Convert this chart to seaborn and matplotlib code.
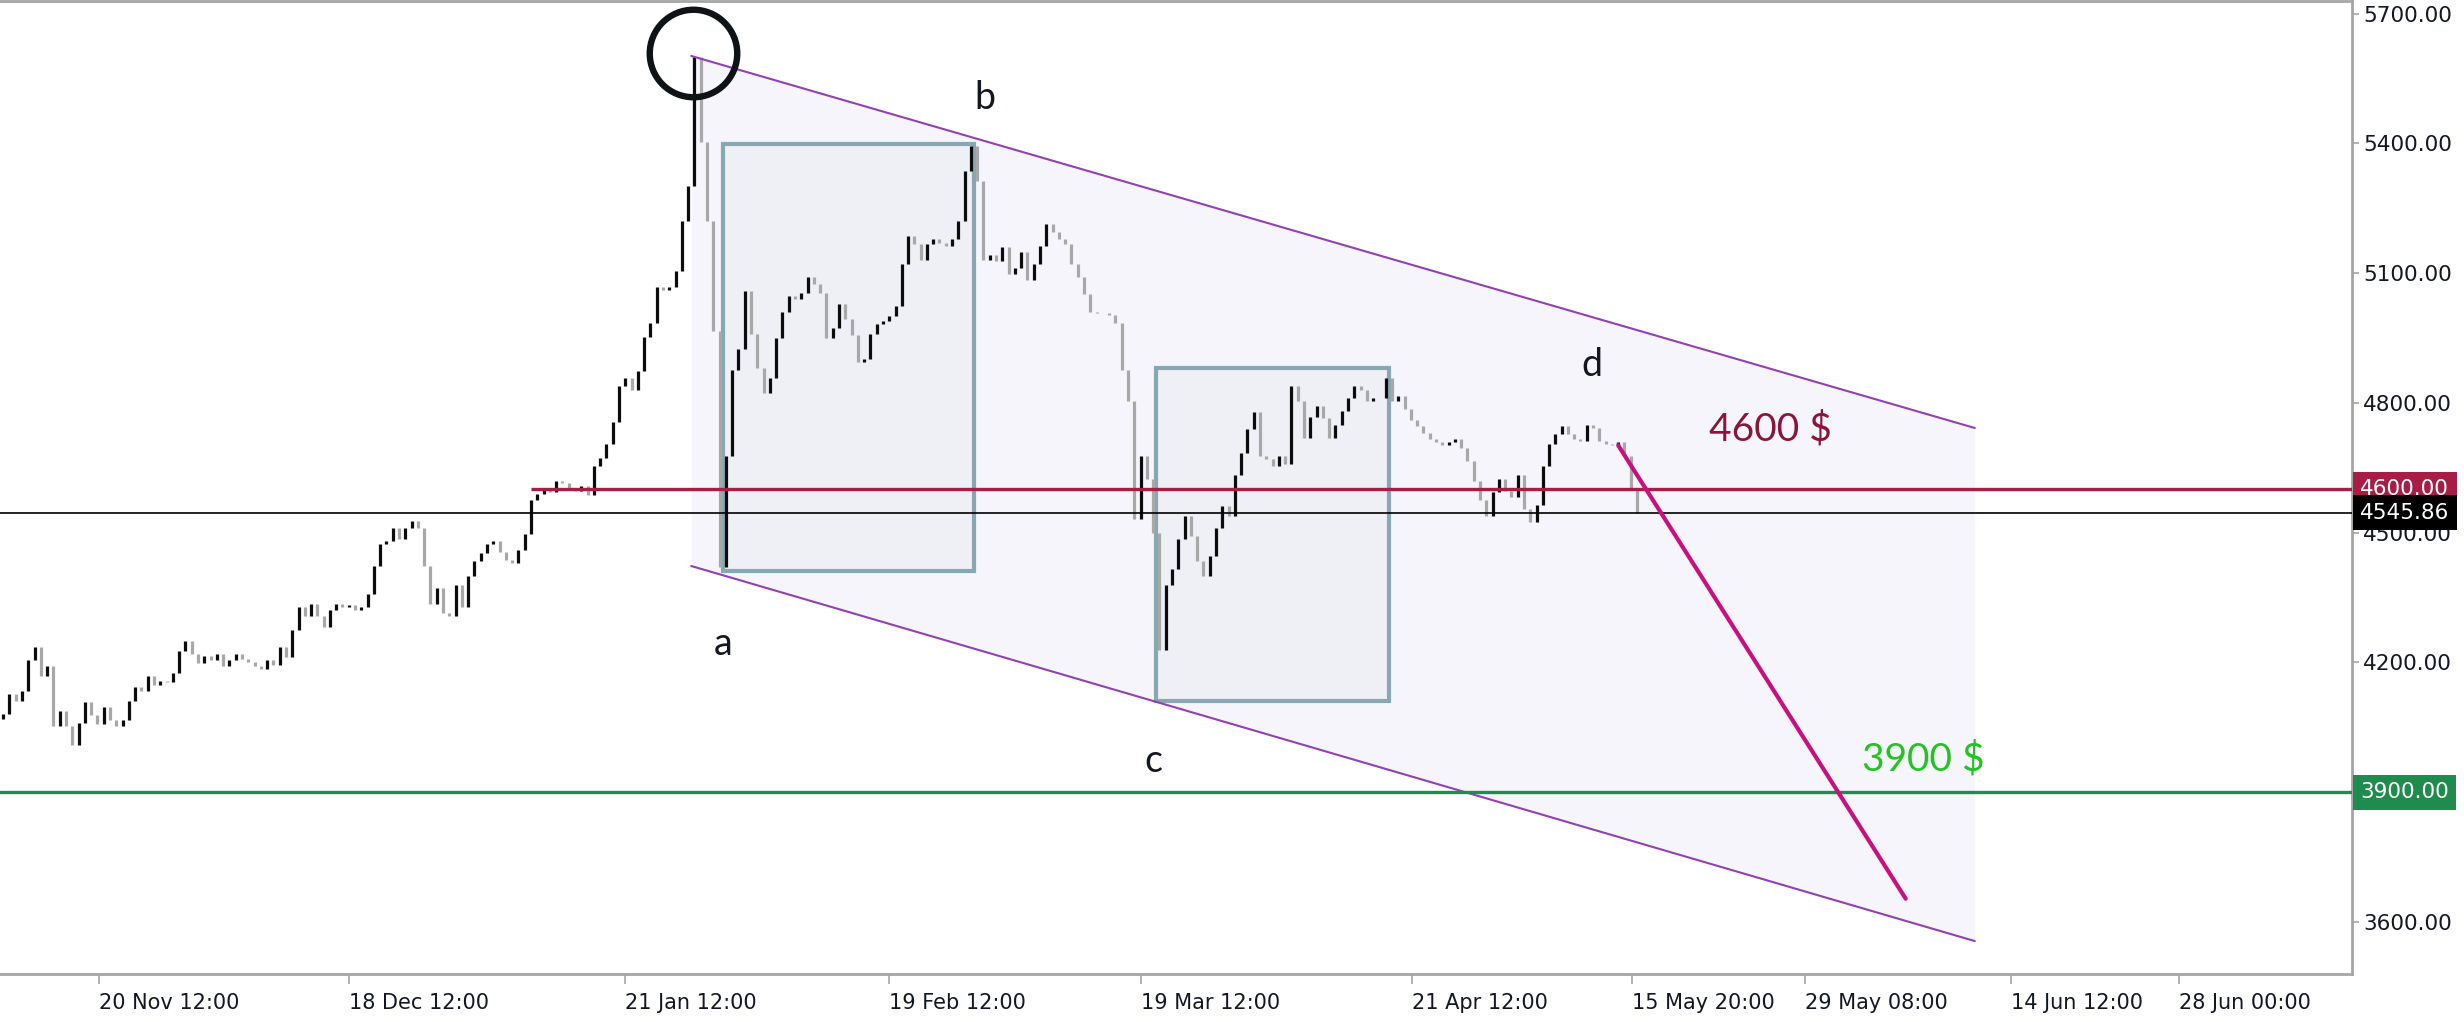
import pandas as pd
import matplotlib.pyplot as plt
import matplotlib.transforms as mtransforms
from matplotlib.patches import Rectangle
import seaborn as sns

# ==========================
# DATA
# ==========================

closes = [
    4082, 4126, 4111, 4133, 4205, 4235, 4169, 4191, 4053, 4089,
    4053, 4010, 4060, 4108, 4079, 4057, 4097, 4068, 4053, 4068,
    4111, 4144, 4133, 4169, 4147, 4158, 4155, 4176, 4227, 4249,
    4220, 4198, 4216, 4205, 4220, 4191, 4205, 4220, 4209, 4202,
    4191, 4184, 4205, 4195, 4235, 4213, 4274, 4329, 4307, 4336,
    4307, 4282, 4322, 4336, 4329, 4332, 4322, 4329, 4358, 4423,
    4474, 4481, 4510, 4485, 4510, 4528, 4510, 4423, 4336, 4372,
    4314, 4307, 4380, 4329, 4401, 4434, 4452, 4474, 4481, 4456,
    4438, 4430, 4459, 4496, 4575, 4590, 4604, 4594, 4619, 4615,
    4601, 4597, 4608, 4586, 4655, 4673, 4706, 4757, 4840, 4858,
    4829, 4873, 4953, 4985, 5069, 5062, 5069, 5105, 5221, 5301,
    5600, 5402, 5221, 4967, 4420, 4677, 4877, 4924, 5058, 4960,
    4880, 4822, 4858, 4949, 5011, 5047, 5040, 5054, 5091, 5076,
    5054, 4949, 4974, 5029, 4993, 4956, 4895, 4902, 4960, 4982,
    4989, 5000, 5025, 5120, 5185, 5167, 5130, 5167, 5178, 5170,
    5163, 5178, 5221, 5337, 5395, 5312, 5130, 5141, 5127, 5160,
    5098, 5112, 5149, 5083, 5120, 5163, 5214, 5196, 5178, 5167,
    5120, 5091, 5051, 5011, 5007, 5007, 5003, 4985, 4877, 4804,
    4532, 4677, 4623, 4499, 4230, 4380, 4416, 4485, 4539, 4492,
    4434, 4401, 4445, 4510, 4561, 4539, 4634, 4684, 4739, 4779,
    4677, 4670, 4655, 4677, 4659, 4840, 4804, 4720, 4768, 4793,
    4764, 4720, 4750, 4782, 4811, 4840, 4829, 4804, 4811, 4811,
    4858, 4804, 4815, 4786, 4760, 4746, 4731, 4717, 4710, 4702,
    4710, 4717, 4695, 4666, 4619, 4575, 4539, 4594, 4623, 4597,
    4583, 4634, 4554, 4525, 4565, 4655, 4706, 4728, 4746, 4728,
    4717, 4713, 4750, 4742, 4713, 4706, 4702, 4710, 4677, 4604,
    4545.86,
]
first_open = 4070

tick_bars = [15.25, 55, 99, 141, 181, 224.25, 259.25, 286.75, 319.5, 346.25]
tick_labels = ["20 Nov 12:00", "18 Dec 12:00", "21 Jan 12:00", "19 Feb 12:00",
               "19 Mar 12:00", "21 Apr 12:00", "15 May 20:00", "29 May 08:00",
               "14 Jun 12:00", "28 Jun 00:00"]
price_ticks = [3600, 3900, 4200, 4500, 4800, 5100, 5400, 5700]

# descending channel
channel_x = [109.5, 313.75]
channel_top = [5602, 4742]
channel_bottom = [4423, 3556]

# consolidation boxes
box_x0 = [114.5, 183.5]
box_x1 = [154.5, 220.5]
box_low = [4412, 4111]
box_high = [5399, 4880]

# projected move
arrow_x = [257, 302.75]
arrow_y = [4702, 3654]

resistance = 4600
resistance_start = 84
support = 3900
last_price = 4545.86

peak_bar, peak_price = 109.75, 5609

wave_names = ["a", "b", "c", "d"]
wave_bars = [114.5, 156.25, 183, 252.75]
wave_prices = [4242, 5504, 3973, 4887]

# ==========================
# STYLE
# ==========================

sns.set_theme(style="white")
plt.rcParams["font.family"] = ["DejaVu Sans"]

UP = "#0c0c0c"
DOWN = "#a8a8a8"
PURPLE = "#9141b5"
BOX_EDGE = "#86a8b1"
RED = "#a81d45"
GREEN = "#1f8b4c"
MAGENTA = "#c8107f"

fig = plt.figure(figsize=(24.64, 10.22), dpi=100)
ax = fig.add_axes([0.0, 0.047, 0.9545, 0.952])

# ==========================
# CANDLES
# ==========================

df = pd.DataFrame({"close": closes})
df["bar"] = range(len(df))
df["open"] = df["close"].shift(1).fillna(first_open)
df["lo"] = df[["open", "close"]].min(axis=1)
df["hi"] = df[["open", "close"]].max(axis=1)
colors = [UP if c >= o else DOWN for o, c in zip(df["open"], df["close"])]

# channel fill
ax.fill_between(channel_x, channel_bottom, channel_top,
                color="#f6f5fb", zorder=0.5, lw=0)

for x0, x1, lo, hi in zip(box_x0, box_x1, box_low, box_high):
    ax.add_patch(Rectangle((x0, lo), x1 - x0, hi - lo,
                           facecolor="#efeff6", edgecolor=BOX_EDGE,
                           lw=3, zorder=1))

ax.vlines(df["bar"], df["lo"], df["hi"], colors=colors, lw=2.3, zorder=2)

sns.lineplot(x=channel_x, y=channel_top, ax=ax, color=PURPLE, lw=1.5, zorder=3)
sns.lineplot(x=channel_x, y=channel_bottom, ax=ax, color=PURPLE, lw=1.5, zorder=3)

xmax = 373.75
ax.hlines(resistance, resistance_start, xmax, color=RED, lw=2.4, zorder=4)
ax.axhline(last_price, color="black", lw=1.2, zorder=4)
ax.axhline(support, color=GREEN, lw=2.4, zorder=4)

sns.lineplot(x=arrow_x, y=arrow_y, ax=ax, color=MAGENTA, lw=3, zorder=5)

ax.plot(peak_bar, peak_price, marker="o", ms=63, mfc="none",
        mec="#0e1416", mew=4.6, clip_on=False, zorder=6)

for name, bx, py in zip(wave_names, wave_bars, wave_prices):
    ax.text(bx, py, name, fontsize=27, color="#131722",
            ha="center", va="center", family=["Lato", "DejaVu Sans"])

ax.text(281.25, 4739, "4600 $", fontsize=28, color="#8b1538",
        ha="center", va="center", family=["Lato", "DejaVu Sans"])
ax.text(305.5, 3977, "3900 $", fontsize=28, color="#22c41f",
        ha="center", va="center", family=["Lato", "DejaVu Sans"])

# ==========================
# AXES
# ==========================

ax.set_xlim(-0.5, xmax)
ax.set_ylim(3480, 5729)

ax.set_xticks(tick_bars)
ax.set_xticklabels(tick_labels, fontsize=15,
                   family=["Liberation Sans Narrow", "DejaVu Sans"])
for lab in ax.get_xticklabels():
    lab.set_ha("left")

ax.yaxis.tick_right()
ax.set_yticks(price_ticks)
ax.set_yticklabels([f"{p:.2f}" for p in price_ticks], fontsize=15.5)

ax.tick_params(axis="x", direction="out", length=7, width=1.2,
               color="#a5a5a5", pad=7, labelcolor="#131722", bottom=True)
ax.tick_params(axis="y", direction="out", length=5, width=1.2,
               color="#a5a5a5", pad=3, labelcolor="#131722", right=True, left=False)

for side in ["top", "right", "bottom"]:
    ax.spines[side].set_color("#a5a5a5")
    ax.spines[side].set_linewidth(2)
ax.spines["left"].set_visible(False)

# price scale labels
trans = mtransforms.blended_transform_factory(ax.transAxes, ax.transData)
for val, txt, bg in [(resistance, "4600.00", RED),
                     (last_price, "4545.86", "black"),
                     (support, "3900.00", GREEN)]:
    ax.text(1.0035, val, txt, transform=trans, fontsize=15.5, color="white",
            ha="left", va="center", zorder=10, clip_on=False,
            bbox=dict(boxstyle="square,pad=0.35", fc=bg, ec="none"))

plt.savefig("out.png", dpi=100)
plt.close()
